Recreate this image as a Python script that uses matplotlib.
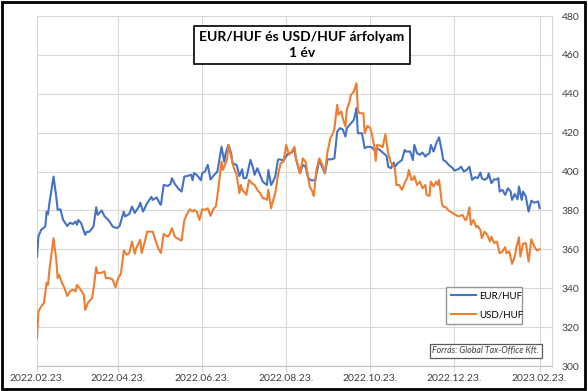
import numpy as np
import pandas as pd
import matplotlib
matplotlib.use("Agg")
import matplotlib.pyplot as plt
import matplotlib.dates as mdates
from matplotlib.patches import Rectangle

plt.rcParams['font.family'] = ['Lato', 'DejaVu Sans']

# days after 2022.02.23. and rates
eur_days = [0, 1, 3, 6, 7, 8, 9, 12, 14, 15, 17, 19, 22, 24, 26, 28, 29, 30, 32, 35,
            36, 38, 41, 43, 44, 47, 49, 52, 55, 58, 60, 63, 64, 67, 69, 71, 74, 75, 77, 80,
            83, 84, 87, 89, 90, 92, 95, 97, 98, 100, 103, 105, 107, 109, 112, 113, 114, 116, 119, 120,
            122, 124, 126, 128, 131, 132, 134, 136, 137, 139, 141, 142, 145, 147, 149, 150, 152, 155, 157, 158,
            160, 162, 164, 167, 168, 170, 171, 173, 175, 176, 179, 182, 185, 187, 188, 191, 193, 195, 197, 199,
            202, 204, 205, 207, 209, 211, 214, 216, 218, 220, 222, 224, 225, 227, 230, 231, 232, 233, 236, 238,
            240, 243, 245, 247, 249, 251, 253, 254, 255, 257, 259, 260, 262, 265, 267, 268, 271, 273, 274, 276,
            278, 280, 282, 283, 285, 286, 288, 290, 292, 294, 295, 297, 299, 302, 303, 306, 308, 310, 312, 314,
            316, 318, 320, 322, 323, 325, 327, 328, 330, 332, 334, 335, 336, 338, 340, 342, 344, 345, 347, 349,
            350, 352, 353, 355, 357, 359, 361, 364, 365]
eur_huf = [356.3, 366.6, 370.0, 371.7, 379.4, 378.0, 383.7, 397.4, 387.0, 380.3, 380.6, 375.1, 372.0, 373.7, 373.0, 374.3, 372.6, 375.1, 373.5, 367.4,
           369.0, 369.0, 371.7, 381.6, 377.7, 380.0, 377.0, 375.0, 371.7, 370.9, 372.0, 379.4, 376.9, 378.2, 382.0, 378.7, 382.0, 384.0, 379.4, 383.7,
           387.0, 385.4, 386.7, 383.7, 382.9, 393.1, 392.6, 393.6, 396.6, 393.7, 390.9, 389.7, 397.4, 397.7, 398.3, 395.5, 399.2, 398.3, 395.5, 399.2,
           400.0, 403.4, 395.9, 397.7, 400.0, 404.3, 412.8, 405.0, 409.4, 413.7, 409.4, 404.3, 403.4, 397.7, 401.2, 396.6, 396.6, 406.0, 401.7, 398.3,
           401.7, 398.3, 394.8, 393.1, 400.8, 393.1, 394.3, 397.4, 406.0, 406.3, 405.7, 409.0, 409.8, 411.5, 406.8, 399.1, 403.4, 402.5, 396.6, 395.5,
           395.5, 402.5, 405.9, 402.5, 399.1, 406.3, 406.3, 406.8, 420.5, 422.3, 421.7, 418.0, 422.3, 424.0, 426.5, 429.1, 432.6, 419.7, 419.7, 412.0,
           412.8, 412.5, 411.1, 412.0, 411.1, 409.8, 408.6, 407.7, 402.5, 401.7, 404.6, 402.5, 404.3, 405.9, 411.1, 410.3, 410.3, 405.9, 413.7, 409.4,
           408.6, 409.8, 407.7, 408.6, 409.4, 413.7, 410.3, 414.6, 417.6, 410.3, 406.0, 405.1, 403.4, 401.7, 400.5, 401.2, 402.5, 400.0, 400.8, 402.5,
           395.7, 397.1, 396.6, 399.5, 396.6, 395.7, 396.6, 399.1, 394.0, 396.0, 396.0, 396.6, 389.7, 390.6, 388.0, 391.4, 389.7, 385.4, 388.5, 385.7,
           392.3, 385.4, 389.7, 387.1, 379.4, 385.0, 384.0, 384.6, 381.2]

usd_days = [0, 1, 3, 5, 7, 8, 9, 12, 14, 15, 16, 18, 20, 22, 24, 26, 28, 29, 31, 34,
            35, 37, 40, 41, 43, 44, 47, 49, 50, 53, 55, 57, 59, 61, 63, 65, 67, 69, 71, 72,
            75, 76, 78, 80, 84, 86, 88, 90, 92, 95, 96, 98, 100, 103, 105, 107, 109, 111, 113, 114,
            116, 118, 120, 122, 124, 126, 128, 130, 132, 134, 135, 138, 139, 141, 143, 145, 147, 148, 149, 151,
            152, 154, 156, 158, 160, 162, 164, 165, 167, 168, 170, 171, 173, 175, 177, 179, 181, 183, 185, 187,
            188, 191, 193, 195, 196, 198, 200, 201, 203, 205, 207, 209, 211, 213, 215, 216, 218, 219, 221, 222,
            224, 225, 227, 228, 230, 232, 233, 234, 237, 238, 240, 242, 243, 245, 246, 247, 250, 251, 253, 255,
            257, 259, 260, 261, 263, 265, 267, 269, 270, 272, 273, 274, 276, 278, 280, 282, 283, 285, 286, 288,
            290, 291, 292, 294, 295, 297, 299, 302, 304, 306, 309, 311, 312, 314, 315, 317, 319, 320, 322, 323,
            325, 327, 329, 330, 332, 334, 336, 338, 340, 341, 343, 345, 347, 348, 350, 351, 353, 355, 357, 359,
            361, 363, 365]
usd_huf = [314.3, 328.0, 330.6, 332.3, 342.9, 341.7, 349.4, 365.7, 354.6, 345.2, 346.9, 343.0, 340.0, 336.0, 338.4, 339.3, 338.4, 341.7, 340.0, 336.6,
           328.9, 332.6, 334.9, 339.3, 350.8, 347.7, 348.0, 348.6, 345.2, 345.2, 344.3, 340.5, 345.2, 347.7, 359.4, 357.2, 358.1, 364.0, 357.7, 360.6,
           364.9, 358.1, 363.2, 369.1, 369.1, 364.9, 360.6, 358.1, 367.9, 366.5, 367.4, 370.9, 366.5, 365.2, 364.5, 375.1, 378.2, 380.6, 379.4, 380.3,
           379.4, 375.1, 380.6, 380.3, 381.1, 377.2, 380.6, 382.3, 393.1, 405.1, 400.8, 406.0, 413.7, 407.7, 401.7, 398.3, 388.9, 393.1, 390.6, 389.2,
           388.0, 395.7, 394.0, 393.1, 390.6, 388.9, 386.3, 386.3, 385.4, 390.6, 381.1, 384.0, 388.9, 398.3, 404.3, 405.1, 413.7, 408.6, 410.3, 412.8,
           406.8, 399.1, 406.8, 405.1, 400.8, 392.3, 389.7, 387.5, 401.2, 406.8, 403.9, 399.1, 410.3, 417.1, 419.7, 422.3, 434.3, 429.2, 430.9, 427.5,
           423.1, 431.8, 436.0, 439.4, 441.1, 445.4, 431.8, 430.0, 430.0, 419.7, 423.5, 422.3, 419.7, 412.8, 405.6, 413.7, 413.2, 412.5, 419.3, 409.4,
           404.6, 402.9, 400.8, 393.1, 393.1, 390.6, 394.0, 397.0, 400.8, 395.7, 395.9, 397.7, 393.1, 394.8, 391.4, 393.1, 388.0, 387.5, 394.8, 392.3,
           394.8, 393.1, 395.7, 383.7, 382.0, 381.6, 379.9, 378.6, 377.7, 376.9, 377.7, 375.1, 375.4, 381.6, 372.6, 375.1, 371.4, 372.0, 370.0, 365.7,
           369.1, 367.4, 364.0, 366.5, 363.2, 364.0, 358.0, 358.9, 361.1, 358.0, 358.9, 352.5, 356.3, 360.6, 366.2, 356.3, 362.9, 363.2, 353.7, 365.2,
           361.7, 359.4, 360.0]

tick_dates = ['2022-02-23', '2022-04-23', '2022-06-23', '2022-08-23',
              '2022-10-23', '2022-12-23', '2023-02-23']
y_ticks = [300, 320, 340, 360, 380, 400, 420, 440, 460, 480]

start = pd.Timestamp('2022-02-23')
eur_x = start + pd.to_timedelta(eur_days, unit='D')
usd_x = start + pd.to_timedelta(usd_days, unit='D')

fig = plt.figure(figsize=(5.88, 3.91), dpi=100)
ax = fig.add_axes([37 / 588, 25 / 391, 515 / 588, 350 / 391])

grid_c = '#d9d9d9'
ax.plot(eur_x, eur_huf, color='#4472C4', lw=1.5, label='EUR/HUF', zorder=3)
ax.plot(usd_x, usd_huf, color='#ED7D31', lw=1.5, label='USD/HUF', zorder=3)

ax.set_ylim(300, 480)
ax.set_xlim(start, start + pd.Timedelta(days=374))
ax.set_yticks(y_ticks)
ticks = pd.to_datetime(tick_dates)
ax.set_xticks(ticks)
ax.xaxis.set_major_formatter(mdates.DateFormatter('%Y.%m.%d.'))

ax.yaxis.tick_right()
ax.tick_params(axis='y', length=0, pad=7, labelsize=7.5, colors='#404040')
ax.tick_params(axis='x', length=4, width=0.8, color=grid_c, pad=2, labelsize=7.5, labelcolor='#404040')
ax.grid(True, color=grid_c, lw=0.8, zorder=0)
for side in ['top', 'left']:
    ax.spines[side].set_visible(False)
ax.spines['bottom'].set_color('#bfbfbf')
ax.spines['right'].set_color(grid_c)

# title box
fig.text(0.5135, 0.885, 'EUR/HUF és USD/HUF árfolyam\n1 év', ha='center', va='center',
         fontsize=10, fontweight='bold', linespacing=1.35,
         bbox=dict(boxstyle='square,pad=0.4', fc='white', ec='black', lw=1.2))

leg = ax.legend(loc='lower left', bbox_to_anchor=(441 / 588, (391 - 329) / 391, 86 / 588, 37 / 391),
                bbox_transform=fig.transFigure, mode='expand', fontsize=7, frameon=True,
                fancybox=False, handlelength=2.6, handletextpad=0.3, borderpad=0.5,
                labelspacing=1.0)
leg.get_frame().set_edgecolor('#7f7f7f')
leg.get_frame().set_linewidth(1.0)

fig.text(485.5 / 588, (391 - 351) / 391, 'Forrás: Global Tax-Office Kft.', ha='center', va='center',
         fontsize=6.3, style='italic', color='#404040',
         bbox=dict(boxstyle='square,pad=0.3', fc='white', ec='#595959', lw=0.9))

# outer frame
fig.patches.append(Rectangle((0.003, 0.004), 0.992, 0.992, transform=fig.transFigure,
                             fill=False, ec='black', lw=2))

fig.savefig('out.png', dpi=100)
